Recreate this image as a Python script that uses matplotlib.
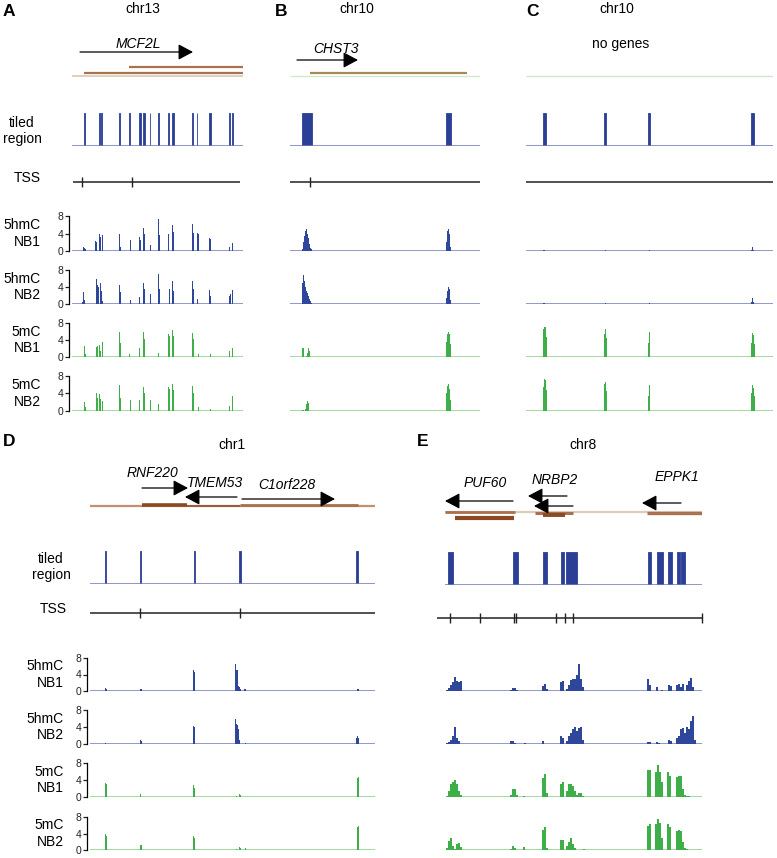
import matplotlib.pyplot as plt

plt.rcParams['font.family'] = ['Liberation Sans', 'DejaVu Sans']

# ---------------- data (genomic positions in kb inside each window) ----------------
win_a = (72, 243)
win_b = (290, 480)
win_c = (526, 773)
win_d = (90, 375)
win_e = (437, 702)

# genes: (name, tail, head, label centre)
genes_a = [('MCF2L', 80, 193, 138)]
genes_b = [('CHST3', 297, 358, 336)]
genes_d = [('RNF220', 142, 188, 152), ('TMEM53', 237, 185, 215), ('C1orf228', 242, 335, 287)]
genes_e = [('PUF60', 513, 445, 485), ('NRBP2', 567, 528, 555), ('', 573, 534, 555), ('EPPK1', 681, 642, 677)]

# transcripts (start, end)
tx_a = [(129, 243), (84, 243), (72, 243)]
tx_b = [(310, 467), (290, 480)]
tx_c = [(526, 773)]
tx_d = [(90, 375), (142, 187), (187, 240), (240, 358)]
tx_e = [(445, 702), (445, 515), (455, 514), (535, 573), (543, 565), (647, 702)]

# tiled regions (start, end)
tiled_a = [(83.5, 84.8), (98.6, 99.6), (100.8, 101.6), (118.6, 119.8), (128.6, 129.6), (138.6, 139.6),
           (140.2, 141), (142.6, 144.6), (149.6, 150.4), (157.6, 158.6), (167.6, 168.6), (172.4, 173.6),
           (191.6, 192.6), (196.6, 197.4), (209.4, 210.6), (229.4, 230.4), (231.6, 232.6)]
tiled_b = [(302, 312), (446, 451)]
tiled_c = [(543, 546), (604, 606), (648.3, 649.8), (751, 753.7)]
tiled_d = [(104.5, 105.5), (139.5, 141), (193.5, 194.5), (239, 241), (356.2, 357.6)]
tiled_e = [(448, 453), (513, 518), (543, 547), (561, 563.5), (566, 577), (648, 651), (657, 663),
           (668, 672), (677, 679.5), (680.5, 685)]

# transcription start sites
tss_a = [82, 132]
tss_b = [310]
tss_c = []
tss_d = [140, 240]
tss_e = [450, 480, 513.5, 515.5, 556, 565, 573, 702]
tss_span_a = (73, 240)
tss_span_b = (290, 480)
tss_span_c = (526, 773)
tss_span_d = (90, 375)
tss_span_e = (437, 702)

# signal tracks: (position, read density)
a_hmc_nb1 = [(83, 1.0), (84, 0.6), (85, 0.5), (95, 2.3), (96, 2.0), (99, 4.0), (100, 3.2), (102, 3.6),
             (119, 3.8), (120, 1.0), (130, 2.5), (139, 3.3), (140, 2.5), (143, 5.3), (144, 4.0), (150, 1.3),
             (158, 7.3), (159, 3.6), (168, 3.8), (172, 6.0), (173, 4.4), (192, 6.2), (193, 4.2), (197, 4.2),
             (198, 3.8), (209, 3.0), (210, 2.8), (229, 1.0), (232, 1.9)]
a_hmc_nb2 = [(82, 0.4), (83, 2.8), (84, 1.0), (96, 6.0), (97, 4.5), (98, 4.0), (100, 5.0), (101, 3.0),
             (102, 0.6), (119, 4.4), (120, 2.8), (130, 1.0), (139, 1.6), (143, 5.0), (144, 3.6), (150, 2.4),
             (158, 7.0), (159, 3.6), (169, 3.6), (172, 5.4), (173, 3.0), (192, 5.4), (193, 3.6), (197, 1.2),
             (209, 3.3), (210, 2.0), (229, 1.8), (230, 2.4), (232, 3.3)]
a_mc_nb1 = [(84, 2.5), (85, 0.8), (96, 2.3), (97, 2.5), (99, 2.8), (100, 1.5), (102, 3.5), (119, 6.0),
            (120, 3.4), (129, 0.8), (139, 2.2), (143, 6.0), (144, 4.2), (158, 0.9), (168, 5.5), (169, 5.0),
            (172, 6.3), (173, 5.0), (192, 5.7), (193, 4.2), (198, 0.7), (210, 0.8), (229, 1.3), (232, 2.0)]
a_mc_nb2 = [(84, 2.1), (85, 0.8), (96, 4.0), (97, 3.0), (99, 3.8), (100, 2.8), (102, 2.3), (119, 6.0),
            (120, 3.0), (130, 2.5), (139, 2.4), (143, 5.5), (144, 4.2), (150, 2.5), (158, 1.5), (168, 5.5),
            (169, 5.0), (172, 6.2), (173, 4.8), (192, 5.7), (193, 4.0), (198, 0.9), (210, 0.4), (229, 1.2),
            (232, 3.5)]

b_hmc_nb1 = [(302, 0.5), (303, 2.0), (304, 3.5), (305, 4.5), (306, 5.0), (307, 4.0), (308, 3.0), (309, 1.5),
             (310, 0.6), (311, 0.5), (446, 2.0), (447, 4.5), (448, 5.0), (449, 4.0), (450, 1.0)]
b_hmc_nb2 = [(302, 5.0), (303, 6.8), (304, 5.5), (305, 4.0), (306, 3.0), (307, 2.5), (308, 2.0), (309, 1.2),
             (310, 0.6), (311, 0.3), (446, 1.5), (447, 3.0), (448, 4.0), (449, 3.6), (450, 1.0)]
b_mc_nb1 = [(302, 2.0), (303, 2.0), (306, 0.3), (307, 1.0), (308, 2.0), (309, 1.5), (446, 3.5), (447, 5.5),
            (448, 6.0), (449, 5.5), (450, 3.0)]
b_mc_nb2 = [(302, 0.2), (303, 0.2), (305, 0.5), (306, 1.5), (307, 2.3), (308, 1.8), (446, 4.0), (447, 5.8),
            (448, 6.2), (449, 5.0), (450, 2.5)]

c_hmc_nb1 = [(543, 0.2), (544, 0.2), (605, 0.15), (649, 0.2), (751, 0.3), (752, 1.0), (753, 0.3)]
c_hmc_nb2 = [(543, 0.2), (544, 0.2), (605, 0.15), (649, 0.2), (751, 0.4), (752, 1.5), (753, 0.5)]
c_mc_nb1 = [(543, 6.7), (544, 7.1), (545, 7.0), (546, 4.8), (604, 5.5), (605, 6.6), (606, 4.5), (648, 3.2),
            (649, 5.9), (751, 3.3), (752, 5.6), (753, 5.2), (754, 3.0)]
c_mc_nb2 = [(543, 5.5), (544, 7.2), (545, 7.1), (546, 4.8), (604, 6.2), (605, 6.6), (606, 4.5), (648, 3.5),
            (649, 6.0), (751, 4.0), (752, 6.0), (753, 5.2), (754, 3.5)]

d_hmc_nb1 = [(105, 0.8), (106, 0.5), (140, 0.5), (141, 0.4), (193, 5.0), (194, 4.6), (235, 6.5), (236, 5.0),
             (237, 5.0), (238, 1.2), (239, 1.0), (240, 0.4), (244, 0.4), (245, 0.5), (357, 0.6), (358, 0.5)]
d_hmc_nb2 = [(105, 0.3), (140, 0.9), (141, 0.6), (193, 4.3), (194, 4.0), (235, 6.0), (236, 4.8), (237, 4.4),
             (238, 3.6), (239, 1.0), (245, 0.2), (356, 1.5), (357, 1.8), (358, 1.4)]
d_mc_nb1 = [(105, 3.3), (106, 3.0), (140, 0.8), (193, 2.8), (194, 2.2), (236, 0.3), (239, 0.6), (240, 0.4),
            (357, 4.5), (358, 4.8)]
d_mc_nb2 = [(105, 4.0), (106, 3.5), (140, 1.3), (141, 1.1), (193, 3.5), (194, 3.0), (236, 0.2), (239, 0.8),
            (240, 0.4), (245, 0.6), (357, 5.5), (358, 5.8)]

e_hmc_nb1 = [(447, 0.3), (449, 0.8), (451, 1.5), (453, 2.3), (455, 3.3), (457, 2.5), (459, 2.3), (461, 2.4),
             (511, 0.3), (513, 0.8), (515, 0.8), (517, 0.3), (543, 1.2), (545, 1.7), (547, 0.4),
             (561, 2.2), (563, 2.5), (567, 0.5), (569, 1.5), (571, 2.6), (573, 3.0), (575, 2.8), (577, 3.8),
             (579, 6.5), (581, 3.0), (583, 1.0), (648, 2.8), (650, 1.5), (657, 0.9), (662, 0.2),
             (669, 1.5), (671, 1.2), (677, 1.4), (679, 1.8), (681, 1.0), (683, 1.8), (687, 1.5), (689, 2.5),
             (691, 3.2), (693, 1.0)]
e_hmc_nb2 = [(447, 0.3), (449, 0.4), (451, 1.0), (453, 1.8), (455, 4.0), (457, 1.5), (459, 0.8),
             (511, 0.8), (513, 0.6), (515, 0.3), (525, 0.2), (543, 0.6), (561, 1.8), (563, 1.5),
             (567, 0.8), (569, 2.0), (571, 2.5), (573, 3.5), (575, 4.0), (577, 3.0), (579, 3.8), (581, 4.0),
             (583, 1.0), (648, 0.4), (650, 0.4), (657, 0.5), (659, 0.3), (669, 1.0), (671, 0.6),
             (677, 1.5), (679, 2.0), (681, 3.5), (683, 3.8), (685, 2.5), (687, 4.0), (689, 3.5), (691, 5.5),
             (693, 6.5), (695, 1.0)]
e_mc_nb1 = [(447, 0.3), (449, 1.5), (451, 3.0), (453, 3.5), (455, 4.0), (457, 3.0), (459, 1.5), (461, 0.5),
            (511, 0.5), (513, 1.8), (515, 2.0), (517, 0.5), (524, 0.2), (543, 4.5), (545, 5.5), (547, 1.0),
            (561, 3.0), (563, 3.5), (567, 1.5), (569, 3.0), (571, 3.0), (573, 2.5), (575, 1.5), (577, 0.5),
            (579, 1.0), (581, 1.0), (583, 0.3), (648, 6.3), (650, 6.3), (656, 6.0), (658, 7.5), (660, 6.0),
            (662, 3.5), (668, 6.0), (670, 5.0), (677, 4.8), (679, 5.0), (681, 5.0), (683, 2.0), (685, 0.5),
            (687, 0.3), (689, 0.2)]
e_mc_nb2 = [(447, 0.5), (449, 2.3), (451, 3.0), (453, 1.0), (455, 0.3), (457, 1.5), (459, 1.8), (461, 0.8),
            (511, 0.3), (513, 1.0), (515, 0.5), (524, 0.7), (543, 4.8), (545, 5.5), (547, 0.5),
            (561, 2.5), (563, 2.5), (567, 1.0), (569, 2.0), (571, 3.0), (573, 1.5), (575, 0.5), (584, 0.3),
            (648, 5.8), (650, 6.3), (656, 6.2), (658, 7.5), (660, 6.5), (662, 3.0), (668, 6.3), (670, 5.5),
            (677, 4.5), (679, 4.8), (681, 4.5), (683, 2.0), (685, 0.5), (687, 0.3)]

track_names = ['5hmC\nNB1', '5hmC\nNB2', '5mC\nNB1', '5mC\nNB2']

# ---------------- styles ----------------
HMC = '#2f479b'
HMC_BASE = '#7f88c0'
MC = '#3dae48'
MC_BASE = '#93d28f'
TILE = '#2c3f96'
TILE_BASE = '#7078b6'
BROWN = '#a8724e'
DARK_BROWN = '#8a4a22'
BEIGE = '#dccdb8'
PALE_GREEN = '#d3e8cb'

W, H = 777, 858
fig = plt.figure(figsize=(W / 100, H / 100), dpi=100)


def add_ax(x0, x1, y0, y1):
    # pixel box -> figure fraction
    ax = fig.add_axes([x0 / W, 1 - y1 / H, (x1 - x0) / W, (y1 - y0) / H])
    ax.set_xlim(x0, x1)
    for s in ax.spines.values():
        s.set_visible(False)
    ax.set_xticks([])
    ax.set_yticks([])
    ax.patch.set_alpha(0)
    return ax


def txt(x, y, s, **kw):
    kw.setdefault('ha', 'center')
    kw.setdefault('va', 'center')
    fig.text(x / W, 1 - y / H, s, **kw)


def gene_track(win, y0, y1, genes, rows, tx, tx_style):
    ax = add_ax(win[0], win[1], y0, y1)
    ax.set_ylim(y1, y0)
    for (s, e), (y, c, lw) in zip(tx, tx_style):
        ax.plot([s, e], [y, y], color=c, lw=lw, solid_capstyle='butt')
    for (name, tail, head, lx), (ay, ly) in zip(genes, rows):
        ax.annotate('', xy=(head, ay), xytext=(tail, ay),
                    arrowprops=dict(arrowstyle='-|>,head_length=0.75,head_width=0.4', color='black',
                                    lw=0.9, mutation_scale=12, shrinkA=0, shrinkB=0))
        if name:
            ax.text(lx, ly, name, style='italic', fontsize=10, ha='center', va='center')
    return ax


def tiled_track(win, y0, y1, tiles, span=None):
    ax = add_ax(win[0], win[1], y0, y1)
    ax.set_ylim(0, 1)
    span = span or win
    ax.hlines(0, span[0], span[1], color=TILE_BASE, lw=1.1)
    ax.broken_barh([(s, e - s) for s, e in tiles], (0, 1), facecolor=TILE, edgecolor=TILE, lw=0.6)
    return ax


def tss_track(win, y, ticks, span):
    ax = add_ax(win[0], win[1], y - 7, y + 7)
    ax.set_xlim(win[0] - 10, win[1] + 2)
    ax.set_position([(win[0] - 10) / W, 1 - (y + 7) / H, (win[1] - win[0] + 12) / W, 14 / H])
    ax.set_ylim(-1, 1)
    ax.hlines(0, span[0], span[1], color='#333333', lw=1.2)
    ax.vlines(ticks, -0.7, 0.7, color='#222222', lw=1.0)
    return ax


def signal_track(win, y_top, y_base, data, color, base_color, width, span=None, yaxis=False):
    ax = add_ax(win[0], win[1], y_top, y_base)
    ax.set_ylim(0, 8)
    span = span or win
    ax.hlines(0, span[0], span[1], color=base_color, lw=1.2, zorder=1)
    xs = [p for p, v in data]
    hs = [v for p, v in data]
    ax.bar(xs, hs, width=width, color=color, linewidth=0, zorder=2)
    if yaxis:
        sp = ax.spines['left']
        sp.set_visible(True)
        sp.set_position(('outward', 2))
        sp.set_linewidth(0.9)
        ax.set_yticks([0, 4, 8])
        ax.tick_params(axis='y', length=3, width=0.9, pad=1, labelsize=7.5, colors='#222222')
    return ax


# ---------------- top row: A, B, C ----------------
sig_rows_top = [(216, 251), (270, 304), (323, 357), (376, 411)]
sig_rows_bot = [(658, 691), (710, 744), (763, 797), (817, 850)]

panels_top = [
    (win_a, [a_hmc_nb1, a_hmc_nb2, a_mc_nb1, a_mc_nb2], True),
    (win_b, [b_hmc_nb1, b_hmc_nb2, b_mc_nb1, b_mc_nb2], False),
    (win_c, [c_hmc_nb1, c_hmc_nb2, c_mc_nb1, c_mc_nb2], False),
]
for win, tracks, yaxis in panels_top:
    for i, (data, (yt, yb)) in enumerate(zip(tracks, sig_rows_top)):
        col, base = (HMC, HMC_BASE) if i < 2 else (MC, MC_BASE)
        signal_track(win, yt, yb, data, col, base, 1.0, yaxis=yaxis)

gene_track(win_a, 30, 85, genes_a, [(52, 44)], tx_a,
           [(67, BROWN, 1.6), (73, BROWN, 1.6), (76, BEIGE, 1.3)])
gene_track(win_b, 30, 85, genes_b, [(60, 49)], tx_b,
           [(73, '#a48a58', 1.6), (76, PALE_GREEN, 1.0)])
gene_track(win_c, 30, 85, [], [], tx_c, [(76, PALE_GREEN, 1.0)])

tiled_track(win_a, 113, 146, tiled_a)
tiled_track(win_b, 113, 146, tiled_b)
tiled_track(win_c, 113, 146, tiled_c)

tss_track(win_a, 182, tss_a, tss_span_a)
tss_track(win_b, 182, tss_b, tss_span_b)
tss_track(win_c, 182, tss_c, tss_span_c)

# ---------------- bottom row: D, E ----------------
for i, (data, (yt, yb)) in enumerate(zip([d_hmc_nb1, d_hmc_nb2, d_mc_nb1, d_mc_nb2], sig_rows_bot)):
    col, base = (HMC, HMC_BASE) if i < 2 else (MC, MC_BASE)
    signal_track(win_d, yt, yb, data, col, base, 1.0, yaxis=True)
for i, (data, (yt, yb)) in enumerate(zip([e_hmc_nb1, e_hmc_nb2, e_mc_nb1, e_mc_nb2], sig_rows_bot)):
    col, base = (HMC, HMC_BASE) if i < 2 else (MC, MC_BASE)
    signal_track(win_e, yt, yb, data, col, base, 2.0, span=(446, 702))

gene_track(win_d, 460, 515, genes_d, [(488, 473), (497, 483), (499, 485)], tx_d,
           [(506, '#c39070', 1.6), (505, DARK_BROWN, 2.6), (506, '#8f5a3a', 1.3), (505, BROWN, 2.0)])
gene_track(win_e, 460, 525, genes_e, [(501, 483), (496, 480), (506, 480), (503, 477)], tx_e,
           [(512, BEIGE, 1.6), (512, BROWN, 2.0), (518, DARK_BROWN, 3.0), (513, BROWN, 2.2),
            (515, DARK_BROWN, 2.8), (513, BROWN, 2.4)])

tiled_track(win_d, 551, 584, tiled_d)
tiled_track(win_e, 552, 585, tiled_e, span=(445, 702))

tss_track(win_d, 613, tss_d, tss_span_d)
tss_track(win_e, 618, tss_e, tss_span_e)

# ---------------- labels ----------------
for x, y, s in [(3, 11, 'A'), (275, 11, 'B'), (526, 11, 'C'), (3, 441, 'D'), (417, 441, 'E')]:
    txt(x, y, s, ha='left', fontsize=12.5, fontweight='bold')
for x, y, s in [(143, 9, 'chr13'), (357, 9, 'chr10'), (617, 9, 'chr10'), (232, 445, 'chr1'), (583, 445, 'chr8')]:
    txt(x, y, s, fontsize=10)
txt(621, 44, 'no genes', fontsize=10)

txt(22, 131, 'tiled\nregion', fontsize=10, linespacing=1.15)
txt(27, 178, 'TSS', fontsize=10)
txt(51, 567, 'tiled\nregion', fontsize=10, linespacing=1.15)
txt(53, 609, 'TSS', fontsize=10)
for (yt, yb), name in zip(sig_rows_top, track_names):
    txt(41, (yt + yb) / 2, name, ha='right', fontsize=10, linespacing=1.25)
for (yt, yb), name in zip(sig_rows_bot, track_names):
    txt(64, (yt + yb) / 2, name, ha='right', fontsize=10, linespacing=1.25)

fig.savefig('out.png', dpi=100)
